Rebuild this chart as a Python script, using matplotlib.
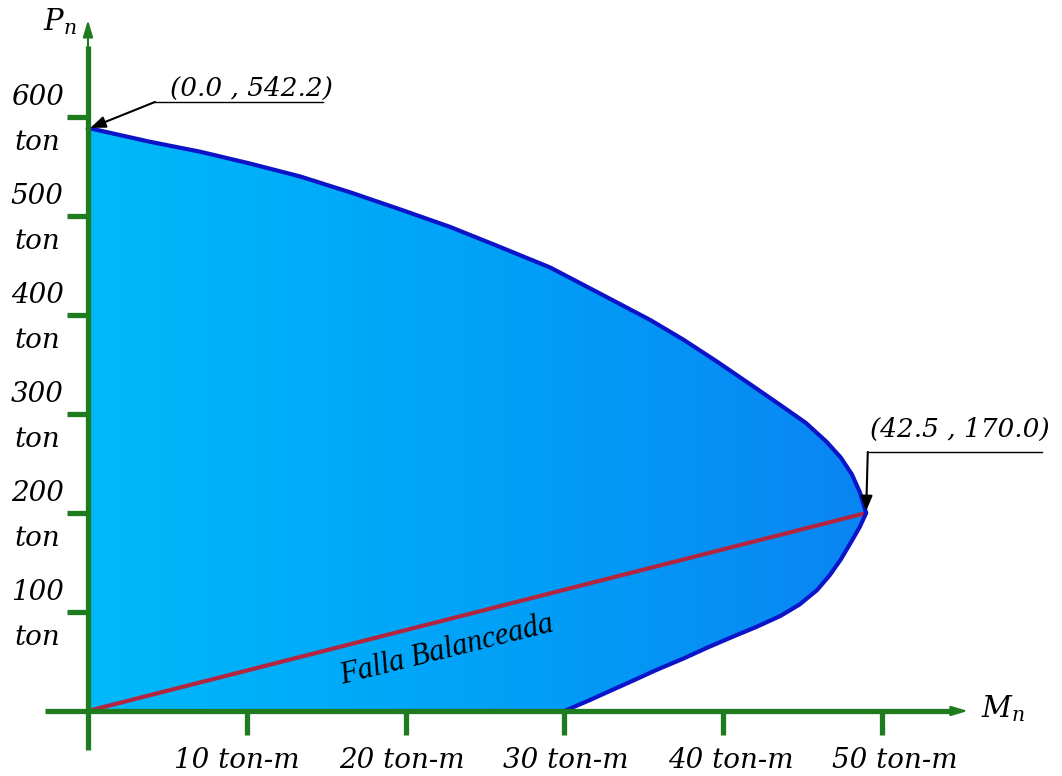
import matplotlib.pyplot as plt
import numpy as np
from matplotlib.path import Path
from matplotlib.patches import PathPatch
from matplotlib.colors import LinearSegmentedColormap

# diagrama de interaccion: rama superior (compresion) y rama inferior
upper_M = [0.0, 3.9, 7.05, 10.2, 13.35, 16.5, 19.6, 22.8, 25.9, 29.1, 32.2, 35.4,
           37.5, 39.6, 41.7, 43.6, 45.2, 46.5, 47.4, 48.1, 48.6, 49.0]
upper_P = [589, 575, 565, 553, 540, 524, 507, 489, 469, 448, 422, 395,
           375, 353, 330, 309, 291, 272, 256, 239, 221, 200]
lower_M = [49.0, 48.6, 48.1, 47.4, 46.7, 45.9, 44.8, 43.6, 42.1, 40.6, 39.0, 37.5,
           35.8, 34.3, 32.7, 31.6, 30.0]
lower_P = [200, 186, 172, 153, 137, 122, 107.5, 96, 85, 75, 64, 53,
           41.5, 30.5, 19, 11, 0]

balance = (49.0, 200)

y_ticks = [100, 200, 300, 400, 500, 600]
x_ticks = [10, 20, 30, 40, 50]
y_labels = [f'{v}\nton' for v in y_ticks]
x_labels = [f'{v} ton-m' for v in x_ticks]

green = '#1e7b1e'
edge_blue = '#0c14c8'
red = '#b3243f'

plt.rcParams['mathtext.fontset'] = 'dejavuserif'

fig = plt.figure(figsize=(10.62, 7.76), dpi=100)
ax = fig.add_axes([0, 0, 1, 1])
ax.set_xlim(-5.54, 61.33)
ax.set_ylim(-65.7, 718.2)
ax.axis('off')

# relleno con degradado
M = [0.0] + upper_M + lower_M[1:] + [0.0]
P = [0.0] + upper_P + lower_P[1:] + [0.0]
poly = Path(np.column_stack([M, P]))
patch = PathPatch(poly, facecolor='none', edgecolor='none')
ax.add_patch(patch)
cmap = LinearSegmentedColormap.from_list('grad', ['#00b9f8', '#00a2f8', '#0a84f3'])
grad = np.linspace(0, 1, 256).reshape(1, -1)
im = ax.imshow(grad, extent=[0, 49.5, 0, 600], aspect='auto', cmap=cmap,
               origin='lower', zorder=1)
im.set_clip_path(patch)

# falla balanceada
ax.plot([0, balance[0]], [0, balance[1]], color=red, lw=3, zorder=3, solid_capstyle='butt')
ax.text(22.6, 61, 'Falla Balanceada', rotation=14, fontsize=22, style='italic',
        family='Liberation Serif', ha='center', va='center', zorder=4)

# contorno
ax.plot(upper_M + lower_M[1:], upper_P + lower_P[1:], color=edge_blue, lw=3,
        zorder=3, solid_joinstyle='round')

# ejes
ax.plot([-2.7, 54.6], [0, 0], color=green, lw=3.8, zorder=5, solid_capstyle='butt')
ax.plot([0, 0], [-39, 672], color=green, lw=3.8, zorder=5, solid_capstyle='butt')
ax.annotate('', xy=(55.4, 0), xytext=(53.6, 0),
            arrowprops=dict(arrowstyle='-|>,head_length=1.0,head_width=0.3',
                            color=green, lw=1.5, shrinkA=0, shrinkB=0), zorder=6)
ax.annotate('', xy=(0, 698), xytext=(0, 670),
            arrowprops=dict(arrowstyle='-|>,head_length=1.0,head_width=0.3',
                            color=green, lw=1.5, shrinkA=0, shrinkB=0), zorder=6)

for v, lab in zip(y_ticks, y_labels):
    ax.plot([-1.32, 0], [v, v], color=green, lw=3.8, zorder=5, solid_capstyle='butt')
    ax.text(-3.2, v - 3, lab, ha='center', va='center', fontsize=20, style='italic',
            family='DejaVu Serif', linespacing=1.85)
for v, lab in zip(x_ticks, x_labels):
    ax.plot([v, v], [0, -24], color=green, lw=3.8, zorder=5, solid_capstyle='butt')
    # las etiquetas se separan un poco mas que las marcas
    ax.text(9.4 + (v - 10) * 1.035, -50, lab, ha='center', va='center', fontsize=20,
            style='italic', family='DejaVu Serif')

ax.text(-1.8, 696, r'$P_n$', fontsize=21, ha='center', va='center')
ax.text(56.2, 2, r'$M_n$', fontsize=21, ha='left', va='center')

# anotaciones
ax.plot([4.22, 14.8], [615.2, 615.2], color='black', lw=1)
ax.annotate('', xy=(0.15, 589), xytext=(4.22, 615.2),
            arrowprops=dict(arrowstyle='-|>,head_length=0.9,head_width=0.35',
                            color='black', lw=1.5, shrinkA=0, shrinkB=0), zorder=7)
ax.text(5.16, 621, '(0.0 , 542.2)', fontsize=19, style='italic',
        family='DejaVu Serif', ha='left', va='baseline')

ax.plot([49.1, 60.1], [261.6, 261.6], color='black', lw=1)
ax.annotate('', xy=(49.0, 202), xytext=(49.1, 261.6),
            arrowprops=dict(arrowstyle='-|>,head_length=0.9,head_width=0.35',
                            color='black', lw=1.5, shrinkA=0, shrinkB=0), zorder=7)
ax.text(49.25, 277, '(42.5 , 170.0)', fontsize=19, style='italic',
        family='DejaVu Serif', ha='left', va='baseline')

fig.savefig('out.png', dpi=100)
